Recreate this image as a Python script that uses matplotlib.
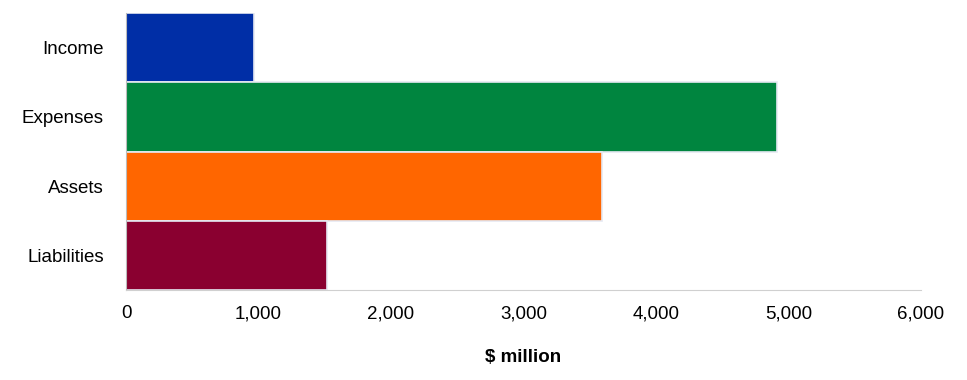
import matplotlib
matplotlib.use("Agg")
import matplotlib.pyplot as plt
from matplotlib.ticker import FuncFormatter

plt.rcParams['font.family'] = ['Liberation Sans', 'DejaVu Sans']

categories = ["Income", "Expenses", "Assets", "Liabilities"]
values = [966, 4910, 3590, 1520]
colors = ["#002EA6", "#00853F", "#FF6600", "#8A0030"]
xticks = [0, 1000, 2000, 3000, 4000, 5000, 6000]

fig = plt.figure(figsize=(9.67, 3.8), dpi=100)
ax = fig.add_axes([126/967, 1 - 290/380, (921-126)/967, (290-13)/380])

y = list(range(len(categories)))
ax.barh(y, values, height=1.0, color=colors, edgecolor="#e6e9f2", linewidth=1.2)
ax.set_ylim(len(categories) - 0.5, -0.5)
ax.set_xlim(0, 6000)
ax.set_yticks(y)
ax.set_yticklabels(categories, fontsize=13.5)
ax.set_xticks(xticks)
ax.xaxis.set_major_formatter(FuncFormatter(lambda v, p: f"{int(v):,}"))
ax.tick_params(axis='x', labelsize=13.5, length=0, pad=11)
ax.tick_params(axis='y', length=0, pad=16)
for s in ["top", "right"]:
    ax.spines[s].set_visible(False)
ax.spines["left"].set_color("#bbbbbb")
ax.spines["bottom"].set_color("#d0d0d0")
ax.set_xlabel("$ million", fontsize=13.5, fontweight="bold", labelpad=19)

fig.savefig("out.png", dpi=100)
